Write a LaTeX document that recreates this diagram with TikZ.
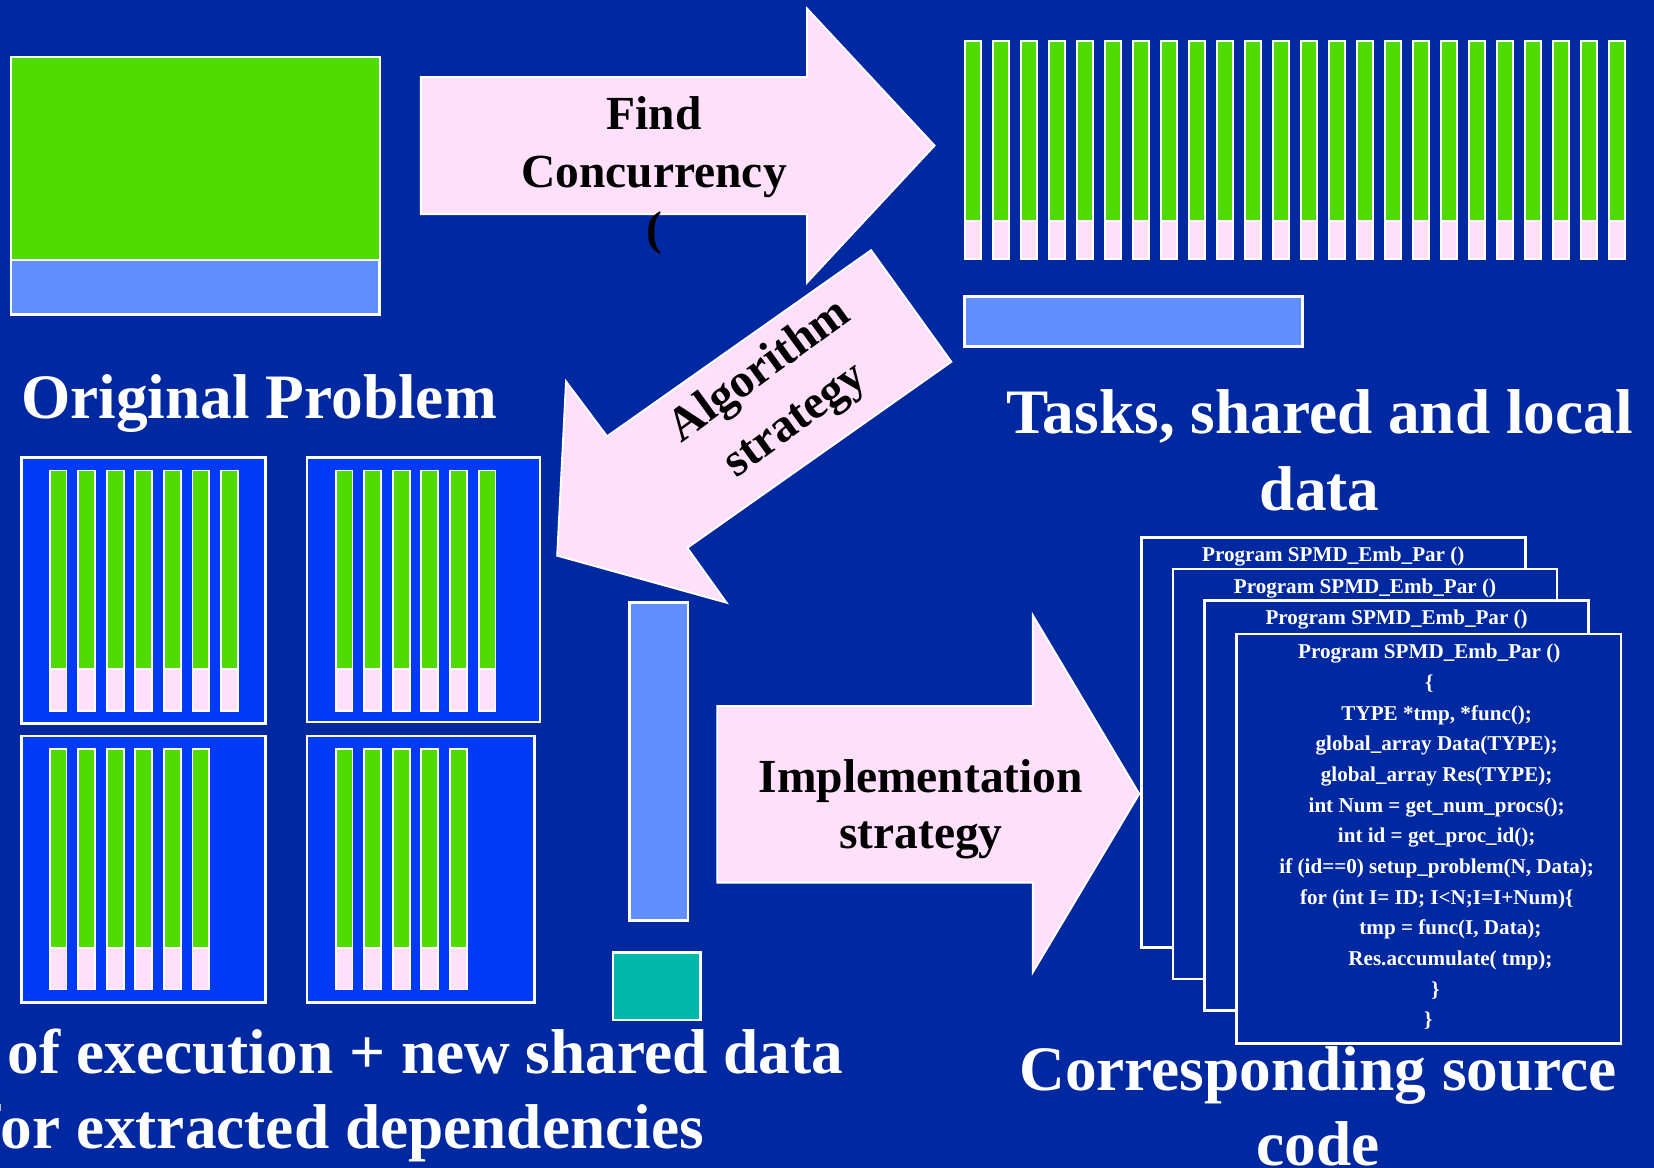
\documentclass[tikz,border=0pt]{standalone}
\usepackage{fontspec}
\setmainfont{Liberation Serif}
\usepackage{tikz}
\usepackage{xcolor}

\definecolor{bgblue}{RGB}{0,40,160}
\definecolor{taskgreen}{RGB}{80,220,0}
\definecolor{taskpink}{RGB}{255,224,250}
\definecolor{datablue}{RGB}{98,142,255}
\definecolor{unitblue}{RGB}{0,58,245}
\definecolor{newdata}{RGB}{0,184,170}

\tikzset{
  greenpart/.style={fill=taskgreen, draw=white, line width=0.5pt},
  pinkpart/.style={fill=taskpink, draw=white, line width=0.5pt},
  databox/.style={fill=datablue, draw=white, line width=0.7pt},
  unitbox/.style={fill=unitblue, draw=white, line width=0.7pt},
  codepage/.style={fill=bgblue, draw=white, line width=0.7pt},
  bigarrow/.style={fill=taskpink, draw=white, line width=0.5pt},
  title/.style={text=white, inner sep=0pt, anchor=base, font=\fontsize{17.07}{20.5}\selectfont\bfseries},
  arrowlabel/.style={text=black, inner sep=0pt, anchor=base, font=\fontsize{12.8}{15.4}\selectfont\bfseries},
  codeline/.style={text=white, inner sep=0pt, anchor=base, font=\fontsize{5.69}{6.8}\selectfont\bfseries}
}

% one task: green work on top, pink local data below
\newcommand{\taskbar}[5]{%
  \filldraw[pinkpart] (#1,#4) rectangle (#1+#2,#5);
  \filldraw[greenpart] (#1,#3) rectangle (#1+#2,#4);
}

\begin{document}
\begin{tikzpicture}[x=0.01cm,y=-0.01cm]
		\useasboundingbox (0,0) rectangle (1568,1107);
		\clip (0,0) rectangle (1568,1107);
		\fill[bgblue] (0,0) rectangle (1568,1107);

		% original problem
		\filldraw[greenpart] (10.4,54.3) rectangle (360,246.5);
		\filldraw[databox] (10.4,246.5) rectangle (360,298);
		\node[title] (orig) at (245.5,396.6) {Original Problem};

		% find concurrency
		\filldraw[bigarrow] (399,73) -- (765,73) -- (765,8) -- (886,138) -- (765,268) -- (765,203) -- (399,203) -- cycle;
		\path (620,123) node[arrowlabel] (find1) {Find}
		(620,178) node[arrowlabel] (find2) {Concurrency}
		(620,232) node[arrowlabel] (find3) {(};

		% tasks, shared and local data
		\foreach \i in {0,...,23}
			{\taskbar{914.6+26.56*\i}{15.2}{38.6}{209.5}{245.6}}
		\filldraw[databox] (914.6,281.3) rectangle (1235,328.7);
		\node[title] (tasks1) at (1251,410.8) {Tasks, shared and local};
		\node[title] (tasks2) at (1251,483.5) {data};

		% algorithm strategy
		\filldraw[bigarrow] (825.8,237.2) -- (901.9,343) -- (651.6,519.4) -- (688.8,571.4) -- (528.2,526.8) -- (536.6,361.6) -- (575.5,413.6) -- cycle;
		\node[arrowlabel, anchor=center, align=center, rotate=36,
			font=\fontsize{12.8}{16.4}\selectfont\bfseries] (algo) at (738,376) {Algorithm\\strategy};

		% units of execution
		\filldraw[unitbox] (20.5,433.6) rectangle (251.6,686);
		\filldraw[unitbox] (291.2,433.6) rectangle (512,684.4);
		\filldraw[unitbox] (20.5,697.8) rectangle (251.6,950.3);
		\filldraw[unitbox] (291.2,697.8) rectangle (506.7,950.3);
		\foreach \i in {0,...,6}
			{\taskbar{47+27.1*\i}{16}{446}{634.5}{674}}
		\foreach \i in {0,...,5}
			{\taskbar{318.2+27.1*\i}{16}{446}{634.5}{674}}
		\foreach \i in {0,...,5}
			{\taskbar{47+27.1*\i}{16}{710}{898.7}{938}}
		\foreach \i in {0,...,4}
			{\taskbar{318.2+27.1*\i}{16}{710}{898.7}{938}}

		% new shared data
		\filldraw[databox] (596.6,571.4) rectangle (652.2,872.8);
		\filldraw[fill=newdata, draw=white, line width=0.7pt] (581,903) rectangle (664,967);

		\node[title, anchor=base east] (units1) at (800,1018) {of execution + new shared data};
		\node[title, anchor=base east] (units2) at (668,1089) {for extracted dependencies};

		% implementation strategy
		\filldraw[bigarrow] (680,669.4) -- (979,669.4) -- (979,583) -- (1080,752.6) -- (979,922) -- (979,836.7) -- (680,836.7) -- cycle;
		\path (873,751) node[arrowlabel] (impl1) {Implementation}
		(873,804) node[arrowlabel] (impl2) {strategy};

		% source code, one page per task
		\filldraw[codepage] (1082,509.4) rectangle (1446,898);
		\node[codeline] (page1) at (1264,532.5) {Program SPMD\_Emb\_Par ()};
		\filldraw[codepage] (1112,539.4) rectangle (1476,928);
		\node[codeline] (page2) at (1294,562.5) {Program SPMD\_Emb\_Par ()};
		\filldraw[codepage] (1142,569.4) rectangle (1506,958);
		\node[codeline] (page3) at (1324,592.5) {Program SPMD\_Emb\_Par ()};
		\filldraw[codepage] (1172.4,601) rectangle (1536.8,989);
		\path (1355,624.4) node[codeline] (c0) {Program SPMD\_Emb\_Par ()}
		(1355,653.5) node[codeline] (c1) {\{}
		(1362,682.6) node[codeline] (c2) {TYPE *tmp, *func();}
		(1362,711.7) node[codeline] (c3) {global\_array Data(TYPE);}
		(1362,740.8) node[codeline] (c4) {global\_array Res(TYPE);}
		(1362,769.9) node[codeline] (c5) {int Num = get\_num\_procs();}
		(1362,799.0) node[codeline] (c6) {int id = get\_proc\_id();}
		(1362,828.1) node[codeline] (c7) {if (id==0) setup\_problem(N, Data);}
		(1362,857.2) node[codeline] (c8) {for (int I= ID; I<N;I=I+Num)\{}
		(1375,886.3) node[codeline] (c9) {tmp = func(I, Data);}
		(1375,915.4) node[codeline] (c10) {Res.accumulate( tmp);}
		(1361,944.5) node[codeline] (c11) {\}}
		(1354,973.6) node[codeline] (c12) {\}};

		\node[title] (src1) at (1249.5,1033.4) {Corresponding source};
		\node[title] (src2) at (1249.5,1105) {code};
	\end{tikzpicture}
\end{document}
